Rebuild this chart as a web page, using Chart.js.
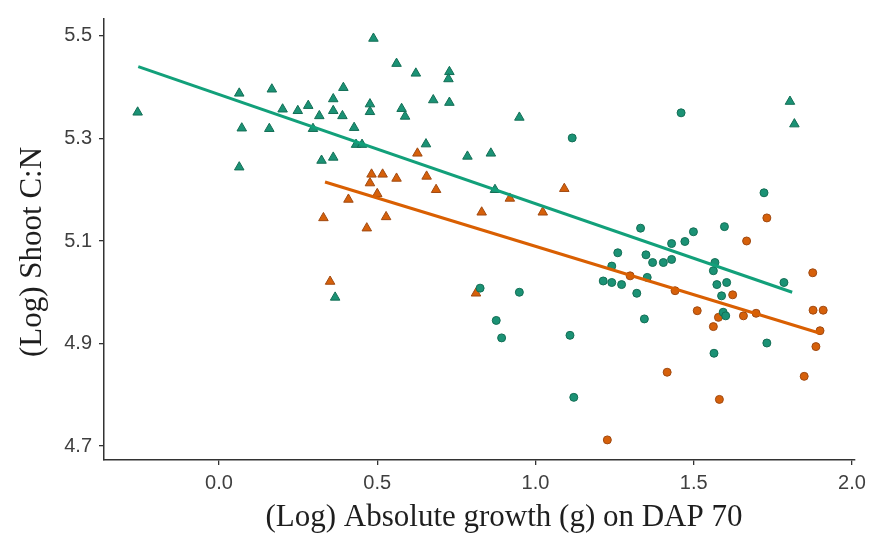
<!DOCTYPE html>
<html>
<head>
<meta charset="utf-8">
<script src="https://cdn.jsdelivr.net/npm/chart.js@4.4.1/dist/chart.umd.min.js"></script>
<style>
  html, body { margin: 0; padding: 0; background: #ffffff; }
  #wrap { width: 877px; height: 548px; }
</style>
</head>
<body>
<div id="wrap"><canvas id="c" width="877" height="548"></canvas></div>
<script>
// ---- data ----
const xTickValues = [0.0, 0.5, 1.0, 1.5, 2.0];
const yTickValues = [4.7, 4.9, 5.1, 5.3, 5.5];
const xTitle = "(Log) Absolute growth (g) on DAP 70";
const yTitle = "(Log) Shoot C:N";

const greenTriangleX = [-0.257,0.064,0.072,0.064,0.167,0.159,0.201,0.249,0.282,0.297,0.317,0.324,0.361,0.361,0.361,0.393,0.39,0.427,0.433,0.452,0.477,0.477,0.488,0.561,0.622,0.728,0.725,0.677,0.728,0.577,0.588,0.949,0.654,0.785,0.859,0.872,0.367,1.804,1.818];
const greenTriangleY = [5.351,5.388,5.32,5.244,5.396,5.319,5.357,5.354,5.364,5.319,5.344,5.257,5.263,5.377,5.354,5.399,5.344,5.321,5.288,5.288,5.367,5.352,5.495,5.446,5.427,5.43,5.416,5.375,5.37,5.358,5.343,5.341,5.289,5.265,5.271,5.2,4.99,5.372,5.328];

const greenCircleX = [0.825,0.949,0.876,0.893,1.109,1.121,1.116,1.46,1.722,1.332,1.499,1.472,1.597,1.43,1.26,1.349,1.37,1.404,1.43,1.241,1.567,1.562,1.214,1.241,1.272,1.353,1.32,1.573,1.604,1.588,1.785,1.344,1.593,1.601,1.731,1.564];
const greenCircleY = [5.008,5.0,4.945,4.911,4.916,4.795,5.301,5.35,5.194,5.125,5.118,5.099,5.128,5.095,5.077,5.073,5.058,5.058,5.064,5.051,5.058,5.042,5.022,5.019,5.015,5.029,4.998,5.015,5.019,4.993,5.019,4.948,4.961,4.954,4.901,4.881];

const orangeTriangleX = [0.627,0.482,0.517,0.561,0.656,0.686,0.477,0.5,0.409,0.33,0.528,0.467,0.919,1.023,1.091,0.83,0.351,0.812];
const orangeTriangleY = [5.271,5.23,5.23,5.222,5.226,5.2,5.213,5.192,5.181,5.145,5.147,5.125,5.183,5.156,5.202,5.156,5.021,4.998];

const orangeCircleX = [1.731,1.667,1.876,1.299,1.441,1.623,1.227,1.416,1.511,1.578,1.562,1.657,1.697,1.581,1.849,1.877,1.909,1.899,1.886];
const orangeCircleY = [5.145,5.1,5.038,5.032,5.003,4.995,4.712,4.844,4.964,4.951,4.933,4.954,4.959,4.791,4.836,4.965,4.965,4.925,4.894];

const greenFitX = [-0.255, 1.811];
const greenFitY = [5.44, 5.0];
const orangeFitX = [0.335, 1.899];
const orangeFitY = [5.215, 4.92];

// ---- styling ----
const GREEN = '#1b9275', GREEN_EDGE = '#136e55';
const ORANGE = '#d6600a', ORANGE_EDGE = '#a04a12';
const AXIS = '#333333', TICKTXT = '#3f3f3f';

function pts(xs, ys) { return xs.map((x, i) => ({ x: x, y: ys[i] })); }

const titlesPlugin = {
  id: 'axisTitles',
  afterDraw(chart) {
    const ctx = chart.ctx;
    ctx.save();
    ctx.fillStyle = '#1e1e1e';
    ctx.font = '31px "Liberation Serif", "Times New Roman", serif';
    ctx.textAlign = 'center';
    ctx.textBaseline = 'middle';
    ctx.fillText(xTitle, 504, 518);
    ctx.translate(33, 252);
    ctx.rotate(-Math.PI / 2);
    ctx.fillText(yTitle, 0, 0);
    ctx.restore();
  }
};

new Chart(document.getElementById('c'), {
  type: 'scatter',
  data: {
    datasets: [
      { label: 'green fit', type: 'line', data: pts(greenFitX, greenFitY), borderColor: '#12a07a', borderWidth: 3, pointRadius: 0, fill: false, order: 0 },
      { label: 'orange fit', type: 'line', data: pts(orangeFitX, orangeFitY), borderColor: '#d95f02', borderWidth: 3, pointRadius: 0, fill: false, order: 0 },
      { label: 'green triangle', data: pts(greenTriangleX, greenTriangleY), pointStyle: 'triangle', pointRadius: 5.5, backgroundColor: GREEN, borderColor: GREEN_EDGE, borderWidth: 1, order: 1 },
      { label: 'green circle', data: pts(greenCircleX, greenCircleY), pointStyle: 'circle', pointRadius: 4, backgroundColor: GREEN, borderColor: GREEN_EDGE, borderWidth: 1, order: 1 },
      { label: 'orange triangle', data: pts(orangeTriangleX, orangeTriangleY), pointStyle: 'triangle', pointRadius: 5.5, backgroundColor: ORANGE, borderColor: ORANGE_EDGE, borderWidth: 1, order: 1 },
      { label: 'orange circle', data: pts(orangeCircleX, orangeCircleY), pointStyle: 'circle', pointRadius: 4, backgroundColor: ORANGE, borderColor: ORANGE_EDGE, borderWidth: 1, order: 1 }
    ]
  },
  options: {
    responsive: false,
    animation: false,
    layout: { padding: { left: 0, right: 22, top: 17, bottom: 0 } },
    plugins: { legend: { display: false }, tooltip: { enabled: false } },
    scales: {
      x: {
        type: 'linear',
        min: -0.3633,
        max: 2.0095,
        afterBuildTicks: s => { s.ticks = xTickValues.map(v => ({ value: v })); },
        afterFit: s => { s.height = 88; },
        grid: { display: true, drawOnChartArea: false, drawTicks: true, tickLength: 5, color: AXIS, lineWidth: 1.3 },
        border: { display: true, color: AXIS, width: 1.5 },
        ticks: { color: TICKTXT, font: { family: '"Liberation Sans", Arial, sans-serif', size: 20 }, padding: 6, callback: v => Number(v).toFixed(1), maxRotation: 0 }
      },
      y: {
        type: 'linear',
        min: 4.6728,
        max: 5.533,
        afterBuildTicks: s => { s.ticks = yTickValues.map(v => ({ value: v })); },
        afterFit: s => { s.width = 104; },
        grid: { display: true, drawOnChartArea: false, drawTicks: true, tickLength: 5, color: AXIS, lineWidth: 1.3 },
        border: { display: true, color: AXIS, width: 1.5 },
        ticks: { color: TICKTXT, font: { family: '"Liberation Sans", Arial, sans-serif', size: 20 }, padding: 7, callback: v => Number(v).toFixed(1) }
      }
    }
  },
  plugins: [titlesPlugin]
});
</script>
</body>
</html>
